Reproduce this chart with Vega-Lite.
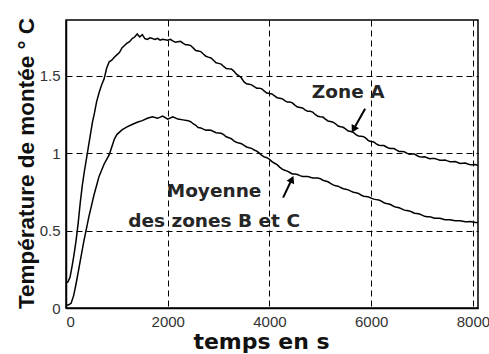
{
  "$schema": "https://vega.github.io/schema/vega-lite/v6.json",
  "width": 412,
  "height": 288,
  "autosize": "none",
  "padding": {"left": 66, "top": 20, "right": 11, "bottom": 46},
  "background": "#ffffff",
  "config": {
    "view": {"stroke": "#000000", "strokeWidth": 1.5},
    "axis": {
      "domainColor": "#000000",
      "domainWidth": 1.5,
      "grid": true,
      "gridColor": "#000000",
      "gridDash": [6, 4],
      "gridWidth": 1,
      "gridOpacity": 1,
      "ticks": false,
      "labelFont": "Liberation Sans",
      "labelFontSize": 15,
      "labelColor": "#333333",
      "titleColor": "#111111",
      "titleFontWeight": "bold"
    }
  },
  "encoding": {
    "x": {
      "field": "t", "type": "quantitative",
      "scale": {"domain": [0, 8100], "nice": false, "zero": false},
      "axis": {
        "values": [0, 2000, 4000, 6000, 8000],
        "format": "d",
        "labelPadding": 6,
        "title": "temps en s",
        "titleFont": "DejaVu Sans",
        "titleFontSize": 22,
        "titleX": 195,
        "titleY": 40,
        "titleAlign": "center",
        "titleBaseline": "alphabetic",
        "titleAnchor": null
      }
    },
    "y": {
      "field": "v", "type": "quantitative",
      "scale": {"domain": [0, 1.86], "nice": false},
      "axis": {
        "values": [0, 0.5, 1, 1.5],
        "format": "~g",
        "labelPadding": 6,
        "title": "Température de montée ° C",
        "titleFont": "Liberation Sans",
        "titleFontSize": 22.5,
        "titleX": -33,
        "titleY": 143,
        "titleAlign": "center",
        "titleBaseline": "alphabetic",
        "titleAngle": -90,
        "titleAnchor": null
      }
    }
  },
  "layer": [
    {
      "data": {
        "values": [
          {"series": "A", "t": 0, "v": 0.16}, {"series": "A", "t": 40, "v": 0.17}, {"series": "A", "t": 80, "v": 0.2},
          {"series": "A", "t": 120, "v": 0.27}, {"series": "A", "t": 160, "v": 0.35}, {"series": "A", "t": 200, "v": 0.44},
          {"series": "A", "t": 240, "v": 0.55}, {"series": "A", "t": 280, "v": 0.68}, {"series": "A", "t": 320, "v": 0.79},
          {"series": "A", "t": 360, "v": 0.88}, {"series": "A", "t": 400, "v": 0.96}, {"series": "A", "t": 440, "v": 1.04},
          {"series": "A", "t": 480, "v": 1.12}, {"series": "A", "t": 520, "v": 1.2}, {"series": "A", "t": 560, "v": 1.26},
          {"series": "A", "t": 600, "v": 1.33}, {"series": "A", "t": 650, "v": 1.39}, {"series": "A", "t": 700, "v": 1.44},
          {"series": "A", "t": 750, "v": 1.48}, {"series": "A", "t": 800, "v": 1.55}, {"series": "A", "t": 850, "v": 1.59},
          {"series": "A", "t": 900, "v": 1.6}, {"series": "A", "t": 950, "v": 1.62}, {"series": "A", "t": 1000, "v": 1.635},
          {"series": "A", "t": 1050, "v": 1.65}, {"series": "A", "t": 1100, "v": 1.68}, {"series": "A", "t": 1150, "v": 1.695},
          {"series": "A", "t": 1200, "v": 1.71}, {"series": "A", "t": 1250, "v": 1.72}, {"series": "A", "t": 1300, "v": 1.74},
          {"series": "A", "t": 1350, "v": 1.75}, {"series": "A", "t": 1400, "v": 1.77}, {"series": "A", "t": 1450, "v": 1.75},
          {"series": "A", "t": 1500, "v": 1.765}, {"series": "A", "t": 1550, "v": 1.74}, {"series": "A", "t": 1600, "v": 1.735},
          {"series": "A", "t": 1650, "v": 1.745}, {"series": "A", "t": 1700, "v": 1.74}, {"series": "A", "t": 1750, "v": 1.735},
          {"series": "A", "t": 1800, "v": 1.742}, {"series": "A", "t": 1850, "v": 1.73}, {"series": "A", "t": 1900, "v": 1.736},
          {"series": "A", "t": 2000, "v": 1.73}, {"series": "A", "t": 2100, "v": 1.725}, {"series": "A", "t": 2200, "v": 1.72},
          {"series": "A", "t": 2300, "v": 1.71}, {"series": "A", "t": 2400, "v": 1.7}, {"series": "A", "t": 2500, "v": 1.68},
          {"series": "A", "t": 2600, "v": 1.66}, {"series": "A", "t": 2700, "v": 1.64}, {"series": "A", "t": 2800, "v": 1.62},
          {"series": "A", "t": 2900, "v": 1.6}, {"series": "A", "t": 3000, "v": 1.58}, {"series": "A", "t": 3100, "v": 1.56},
          {"series": "A", "t": 3200, "v": 1.545}, {"series": "A", "t": 3300, "v": 1.53}, {"series": "A", "t": 3400, "v": 1.5},
          {"series": "A", "t": 3500, "v": 1.46}, {"series": "A", "t": 3600, "v": 1.445}, {"series": "A", "t": 3700, "v": 1.43},
          {"series": "A", "t": 3800, "v": 1.42}, {"series": "A", "t": 3900, "v": 1.4}, {"series": "A", "t": 4000, "v": 1.385},
          {"series": "A", "t": 4100, "v": 1.37}, {"series": "A", "t": 4200, "v": 1.355}, {"series": "A", "t": 4300, "v": 1.34},
          {"series": "A", "t": 4400, "v": 1.33}, {"series": "A", "t": 4500, "v": 1.31}, {"series": "A", "t": 4600, "v": 1.295},
          {"series": "A", "t": 4700, "v": 1.28}, {"series": "A", "t": 4800, "v": 1.27}, {"series": "A", "t": 4900, "v": 1.25},
          {"series": "A", "t": 5000, "v": 1.235}, {"series": "A", "t": 5100, "v": 1.22}, {"series": "A", "t": 5200, "v": 1.205},
          {"series": "A", "t": 5300, "v": 1.19}, {"series": "A", "t": 5400, "v": 1.17}, {"series": "A", "t": 5500, "v": 1.155},
          {"series": "A", "t": 5600, "v": 1.14}, {"series": "A", "t": 5700, "v": 1.12}, {"series": "A", "t": 5800, "v": 1.11},
          {"series": "A", "t": 5900, "v": 1.095}, {"series": "A", "t": 6000, "v": 1.075}, {"series": "A", "t": 6100, "v": 1.06},
          {"series": "A", "t": 6200, "v": 1.05}, {"series": "A", "t": 6300, "v": 1.04}, {"series": "A", "t": 6400, "v": 1.03},
          {"series": "A", "t": 6500, "v": 1.02}, {"series": "A", "t": 6600, "v": 1.01}, {"series": "A", "t": 6700, "v": 1.0},
          {"series": "A", "t": 6800, "v": 0.995}, {"series": "A", "t": 6900, "v": 0.985}, {"series": "A", "t": 7000, "v": 0.975},
          {"series": "A", "t": 7100, "v": 0.97}, {"series": "A", "t": 7200, "v": 0.965}, {"series": "A", "t": 7300, "v": 0.96},
          {"series": "A", "t": 7400, "v": 0.955}, {"series": "A", "t": 7500, "v": 0.95}, {"series": "A", "t": 7600, "v": 0.945},
          {"series": "A", "t": 7700, "v": 0.94}, {"series": "A", "t": 7800, "v": 0.935}, {"series": "A", "t": 7900, "v": 0.93},
          {"series": "A", "t": 8000, "v": 0.925}, {"series": "A", "t": 8100, "v": 0.92},
          {"series": "A", "t": 2050, "v": 1.735}, {"series": "A", "t": 2150, "v": 1.716}, {"series": "A", "t": 2250, "v": 1.722},
          {"series": "A", "t": 2350, "v": 1.7}, {"series": "A", "t": 2450, "v": 1.695}, {"series": "A", "t": 2550, "v": 1.663},
          {"series": "A", "t": 2650, "v": 1.656}, {"series": "A", "t": 2750, "v": 1.626}, {"series": "A", "t": 2850, "v": 1.615},
          {"series": "A", "t": 2950, "v": 1.584}, {"series": "A", "t": 3050, "v": 1.575}, {"series": "A", "t": 3150, "v": 1.547},
          {"series": "A", "t": 3250, "v": 1.544}, {"series": "A", "t": 3350, "v": 1.51}, {"series": "A", "t": 3450, "v": 1.485},
          {"series": "A", "t": 3550, "v": 1.448}, {"series": "A", "t": 3650, "v": 1.441}, {"series": "A", "t": 3750, "v": 1.42},
          {"series": "A", "t": 3850, "v": 1.415}, {"series": "A", "t": 3950, "v": 1.388}, {"series": "A", "t": 4050, "v": 1.382},
          {"series": "A", "t": 4150, "v": 1.358}, {"series": "A", "t": 4250, "v": 1.352}, {"series": "A", "t": 4350, "v": 1.33},
          {"series": "A", "t": 4450, "v": 1.325}, {"series": "A", "t": 4550, "v": 1.298}, {"series": "A", "t": 4650, "v": 1.292},
          {"series": "A", "t": 4750, "v": 1.27}, {"series": "A", "t": 4850, "v": 1.265}, {"series": "A", "t": 4950, "v": 1.238},
          {"series": "A", "t": 5050, "v": 1.233}, {"series": "A", "t": 5150, "v": 1.208}, {"series": "A", "t": 5250, "v": 1.2},
          {"series": "A", "t": 5350, "v": 1.175}, {"series": "A", "t": 5450, "v": 1.167}, {"series": "A", "t": 5550, "v": 1.143},
          {"series": "A", "t": 5650, "v": 1.134}, {"series": "A", "t": 5750, "v": 1.111}, {"series": "A", "t": 5850, "v": 1.106},
          {"series": "A", "t": 5950, "v": 1.08}, {"series": "A", "t": 6050, "v": 1.072}, {"series": "A", "t": 6150, "v": 1.051},
          {"series": "A", "t": 6250, "v": 1.049}, {"series": "A", "t": 6350, "v": 1.031}, {"series": "A", "t": 6450, "v": 1.03},
          {"series": "A", "t": 6550, "v": 1.011}, {"series": "A", "t": 6650, "v": 1.009}, {"series": "A", "t": 6750, "v": 0.993},
          {"series": "A", "t": 6850, "v": 0.994}, {"series": "A", "t": 6950, "v": 0.976}, {"series": "A", "t": 7050, "v": 0.976},
          {"series": "A", "t": 7150, "v": 0.964}, {"series": "A", "t": 7250, "v": 0.966}, {"series": "A", "t": 7350, "v": 0.954},
          {"series": "A", "t": 7450, "v": 0.956}, {"series": "A", "t": 7550, "v": 0.945}, {"series": "A", "t": 7650, "v": 0.946},
          {"series": "A", "t": 7750, "v": 0.934}, {"series": "A", "t": 7850, "v": 0.936}, {"series": "A", "t": 7950, "v": 0.925},
          {"series": "A", "t": 8050, "v": 0.926},
          {"series": "BC", "t": 0, "v": 0.02}, {"series": "BC", "t": 50, "v": 0.02}, {"series": "BC", "t": 100, "v": 0.03},
          {"series": "BC", "t": 150, "v": 0.08}, {"series": "BC", "t": 200, "v": 0.16}, {"series": "BC", "t": 250, "v": 0.25},
          {"series": "BC", "t": 300, "v": 0.34}, {"series": "BC", "t": 350, "v": 0.43}, {"series": "BC", "t": 400, "v": 0.51},
          {"series": "BC", "t": 450, "v": 0.59}, {"series": "BC", "t": 500, "v": 0.66}, {"series": "BC", "t": 550, "v": 0.73},
          {"series": "BC", "t": 600, "v": 0.79}, {"series": "BC", "t": 650, "v": 0.85}, {"series": "BC", "t": 700, "v": 0.89},
          {"series": "BC", "t": 750, "v": 0.93}, {"series": "BC", "t": 800, "v": 0.96}, {"series": "BC", "t": 850, "v": 0.99},
          {"series": "BC", "t": 900, "v": 1.04}, {"series": "BC", "t": 950, "v": 1.09}, {"series": "BC", "t": 1000, "v": 1.12},
          {"series": "BC", "t": 1100, "v": 1.15}, {"series": "BC", "t": 1200, "v": 1.17}, {"series": "BC", "t": 1300, "v": 1.185},
          {"series": "BC", "t": 1400, "v": 1.2}, {"series": "BC", "t": 1500, "v": 1.21}, {"series": "BC", "t": 1600, "v": 1.225},
          {"series": "BC", "t": 1700, "v": 1.235}, {"series": "BC", "t": 1800, "v": 1.225}, {"series": "BC", "t": 1900, "v": 1.24},
          {"series": "BC", "t": 2000, "v": 1.22}, {"series": "BC", "t": 2100, "v": 1.235}, {"series": "BC", "t": 2200, "v": 1.22},
          {"series": "BC", "t": 2300, "v": 1.215}, {"series": "BC", "t": 2400, "v": 1.21}, {"series": "BC", "t": 2500, "v": 1.19},
          {"series": "BC", "t": 2600, "v": 1.165}, {"series": "BC", "t": 2700, "v": 1.155}, {"series": "BC", "t": 2800, "v": 1.15},
          {"series": "BC", "t": 2900, "v": 1.14}, {"series": "BC", "t": 3000, "v": 1.13}, {"series": "BC", "t": 3100, "v": 1.12},
          {"series": "BC", "t": 3200, "v": 1.1}, {"series": "BC", "t": 3300, "v": 1.08}, {"series": "BC", "t": 3400, "v": 1.065},
          {"series": "BC", "t": 3500, "v": 1.05}, {"series": "BC", "t": 3600, "v": 1.035}, {"series": "BC", "t": 3700, "v": 1.02},
          {"series": "BC", "t": 3800, "v": 1.0}, {"series": "BC", "t": 3900, "v": 0.975}, {"series": "BC", "t": 4000, "v": 0.96},
          {"series": "BC", "t": 4100, "v": 0.935}, {"series": "BC", "t": 4200, "v": 0.91}, {"series": "BC", "t": 4300, "v": 0.89},
          {"series": "BC", "t": 4400, "v": 0.875}, {"series": "BC", "t": 4500, "v": 0.865}, {"series": "BC", "t": 4600, "v": 0.855},
          {"series": "BC", "t": 4700, "v": 0.85}, {"series": "BC", "t": 4800, "v": 0.845}, {"series": "BC", "t": 4900, "v": 0.84},
          {"series": "BC", "t": 5000, "v": 0.835}, {"series": "BC", "t": 5100, "v": 0.82}, {"series": "BC", "t": 5200, "v": 0.805},
          {"series": "BC", "t": 5300, "v": 0.79}, {"series": "BC", "t": 5400, "v": 0.778}, {"series": "BC", "t": 5500, "v": 0.767},
          {"series": "BC", "t": 5600, "v": 0.755}, {"series": "BC", "t": 5700, "v": 0.745}, {"series": "BC", "t": 5800, "v": 0.73},
          {"series": "BC", "t": 5900, "v": 0.72}, {"series": "BC", "t": 6000, "v": 0.71}, {"series": "BC", "t": 6100, "v": 0.7},
          {"series": "BC", "t": 6200, "v": 0.69}, {"series": "BC", "t": 6300, "v": 0.675}, {"series": "BC", "t": 6400, "v": 0.665},
          {"series": "BC", "t": 6500, "v": 0.65}, {"series": "BC", "t": 6600, "v": 0.64}, {"series": "BC", "t": 6700, "v": 0.63},
          {"series": "BC", "t": 6800, "v": 0.62}, {"series": "BC", "t": 6900, "v": 0.61}, {"series": "BC", "t": 7000, "v": 0.6},
          {"series": "BC", "t": 7100, "v": 0.59}, {"series": "BC", "t": 7200, "v": 0.585}, {"series": "BC", "t": 7300, "v": 0.58},
          {"series": "BC", "t": 7400, "v": 0.575}, {"series": "BC", "t": 7500, "v": 0.57}, {"series": "BC", "t": 7600, "v": 0.567},
          {"series": "BC", "t": 7700, "v": 0.563}, {"series": "BC", "t": 7800, "v": 0.56}, {"series": "BC", "t": 7900, "v": 0.557},
          {"series": "BC", "t": 8000, "v": 0.555}, {"series": "BC", "t": 8100, "v": 0.553},
          {"series": "BC", "t": 2450, "v": 1.203}, {"series": "BC", "t": 2550, "v": 1.18}, {"series": "BC", "t": 2650, "v": 1.163},
          {"series": "BC", "t": 2750, "v": 1.148}, {"series": "BC", "t": 2850, "v": 1.148}, {"series": "BC", "t": 2950, "v": 1.132},
          {"series": "BC", "t": 3050, "v": 1.128}, {"series": "BC", "t": 3150, "v": 1.106}, {"series": "BC", "t": 3250, "v": 1.093},
          {"series": "BC", "t": 3350, "v": 1.07}, {"series": "BC", "t": 3450, "v": 1.061}, {"series": "BC", "t": 3550, "v": 1.04},
          {"series": "BC", "t": 3650, "v": 1.031}, {"series": "BC", "t": 3750, "v": 1.013}, {"series": "BC", "t": 3850, "v": 0.985},
          {"series": "BC", "t": 3950, "v": 0.971}, {"series": "BC", "t": 4050, "v": 0.945}, {"series": "BC", "t": 4150, "v": 0.926},
          {"series": "BC", "t": 4250, "v": 0.897}, {"series": "BC", "t": 4350, "v": 0.884}, {"series": "BC", "t": 4450, "v": 0.866},
          {"series": "BC", "t": 4550, "v": 0.862}, {"series": "BC", "t": 4650, "v": 0.849}, {"series": "BC", "t": 4750, "v": 0.85},
          {"series": "BC", "t": 4850, "v": 0.84}, {"series": "BC", "t": 4950, "v": 0.84}, {"series": "BC", "t": 5050, "v": 0.825},
          {"series": "BC", "t": 5150, "v": 0.815}, {"series": "BC", "t": 5250, "v": 0.795}, {"series": "BC", "t": 5350, "v": 0.787},
          {"series": "BC", "t": 5450, "v": 0.77}, {"series": "BC", "t": 5550, "v": 0.763}, {"series": "BC", "t": 5650, "v": 0.748},
          {"series": "BC", "t": 5750, "v": 0.74}, {"series": "BC", "t": 5850, "v": 0.722}, {"series": "BC", "t": 5950, "v": 0.717},
          {"series": "BC", "t": 6050, "v": 0.703}, {"series": "BC", "t": 6150, "v": 0.697}, {"series": "BC", "t": 6250, "v": 0.68},
          {"series": "BC", "t": 6350, "v": 0.672}, {"series": "BC", "t": 6450, "v": 0.655}, {"series": "BC", "t": 6550, "v": 0.647},
          {"series": "BC", "t": 6650, "v": 0.632}, {"series": "BC", "t": 6750, "v": 0.627}, {"series": "BC", "t": 6850, "v": 0.612},
          {"series": "BC", "t": 6950, "v": 0.607}, {"series": "BC", "t": 7050, "v": 0.592}, {"series": "BC", "t": 7150, "v": 0.59},
          {"series": "BC", "t": 7250, "v": 0.58}, {"series": "BC", "t": 7350, "v": 0.579}, {"series": "BC", "t": 7450, "v": 0.57},
          {"series": "BC", "t": 7550, "v": 0.57}, {"series": "BC", "t": 7650, "v": 0.563}, {"series": "BC", "t": 7750, "v": 0.563},
          {"series": "BC", "t": 7850, "v": 0.557}, {"series": "BC", "t": 7950, "v": 0.558}, {"series": "BC", "t": 8050, "v": 0.552}
        ]
      },
      "mark": {"type": "line", "color": "#000000", "strokeWidth": 1.5, "clip": true},
      "encoding": {
        "detail": {"field": "series"}
      }
    },
    {
      "data": {
        "values": [
          {"t": 5547, "v": 1.392, "label": "Zone A"},
          {"t": 2911, "v": 0.758, "label": "Moyenne"},
          {"t": 2911, "v": 0.565, "label": "des zones B et C"}
        ]
      },
      "mark": {"type": "text", "font": "DejaVu Sans", "fontWeight": "bold", "fontSize": 18.5, "color": "#262626", "align": "center", "baseline": "middle"},
      "encoding": {
        "text": {"field": "label"}
      }
    },
    {
      "data": {
        "values": [
          {"t": 5881, "v": 1.287, "t2": 5665, "v2": 1.161},
          {"t": 4268, "v": 0.713, "t2": 4431, "v2": 0.825}
        ]
      },
      "mark": {"type": "rule", "color": "#000000", "strokeWidth": 2},
      "encoding": {
        "x2": {"field": "t2"},
        "y2": {"field": "v2"}
      }
    },
    {
      "data": {
        "values": [
          {"t": 5665, "v": 1.161, "dir": 209.5},
          {"t": 4431, "v": 0.825, "dir": 25.5}
        ]
      },
      "mark": {"type": "point", "shape": "triangle", "filled": true, "color": "#000000", "opacity": 1, "size": 70},
      "encoding": {
        "angle": {"field": "dir", "type": "quantitative", "scale": null}
      }
    }
  ]
}
